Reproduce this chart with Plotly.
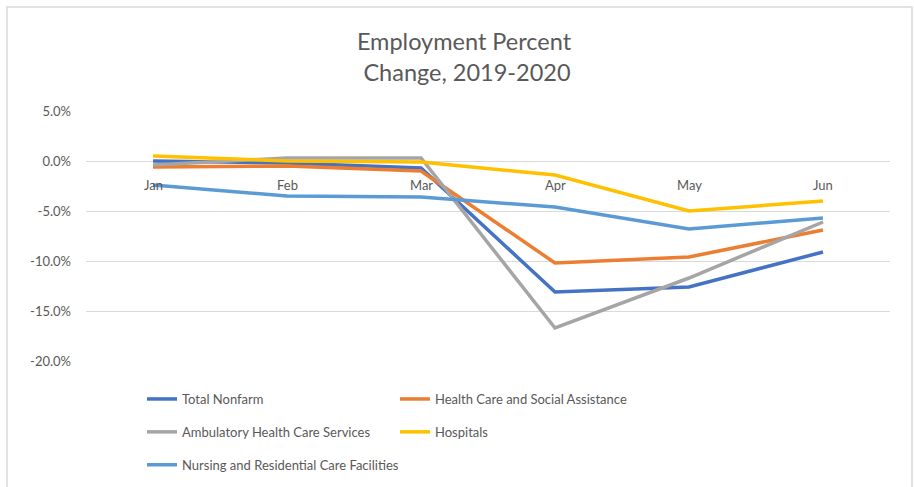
import plotly.graph_objects as go

months = ["Jan", "Feb", "Mar", "Apr", "May", "Jun"]
total_nonfarm = [0.0, -0.2, -0.7, -13.1, -12.6, -9.1]
health_care = [-0.6, -0.5, -1.0, -10.2, -9.6, -6.9]
ambulatory = [-0.4, 0.3, 0.3, -16.7, -11.7, -6.1]
hospitals = [0.5, 0.0, -0.1, -1.4, -5.0, -4.0]
nursing = [-2.4, -3.5, -3.6, -4.6, -6.8, -5.7]

series = [
    ("Total Nonfarm", total_nonfarm, "#4472C4", "legend"),
    ("Health Care and Social Assistance", health_care, "#ED7D31", "legend2"),
    ("Ambulatory Health Care Services", ambulatory, "#A5A5A5", "legend"),
    ("Hospitals", hospitals, "#FFC000", "legend2"),
    ("Nursing and Residential Care Facilities", nursing, "#5B9BD5", "legend"),
]

y_ticks = [5, 0, -5, -10, -15, -20]
y_tick_text = ["5.0%", "0.0%", "-5.0%", "-10.0%", "-15.0%", "-20.0%"]

FONT = "Lato"
TXT = "#595959"

W, H = 914, 487
L, R, T, B = 86, 24, 111, 126
pw, ph = W - L - R, H - T - B

fig = go.Figure()
for i, (name, vals, color, lg) in enumerate(series):
    fig.add_trace(go.Scatter(
        x=months, y=vals, name=name, mode="lines",
        line=dict(color=color, width=3.5),
        legend=lg, legendgroup=name,
    ))

annotations = []
for m in months:
    annotations.append(dict(x=m, y=0, xref="x", yref="y", text=m, showarrow=False,
                            yanchor="top", yshift=-14,
                            font=dict(family=FONT, size=13, color=TXT)))

def px_to_paper_x(px):
    return (px - L) / pw

def px_to_paper_y(py):
    return (H - B - py) / ph

fig.add_shape(type="rect", xref="paper", yref="paper",
              x0=px_to_paper_x(7), x1=px_to_paper_x(912),
              y0=px_to_paper_y(520), y1=px_to_paper_y(7),
              line=dict(color="#D9D9D9", width=1.5), fillcolor="rgba(0,0,0,0)", layer="below")

fig.update_layout(
    width=W, height=H,
    margin=dict(l=L, r=R, t=T, b=B, autoexpand=False),
    paper_bgcolor="white", plot_bgcolor="white",
    font=dict(family=FONT, size=13, color=TXT),
    title=dict(text="Employment Percent<br> Change, 2019-2020", x=464 / W, xanchor="center",
               y=1 - 50 / H, yanchor="top",
               font=dict(family=FONT, size=23.5, color=TXT)),
    xaxis=dict(type="category", range=[-0.5, 5.5], showticklabels=False,
               showgrid=False, zeroline=False, showline=False, ticks=""),
    yaxis=dict(range=[-20, 5], tickvals=y_ticks, ticktext=y_tick_text,
               showgrid=True, gridcolor="#D9D9D9", gridwidth=1,
               zeroline=False, showline=False, ticks="", ticklabelstandoff=14,
               tickfont=dict(family=FONT, size=13, color=TXT)),
    legend=dict(x=px_to_paper_x(142), xanchor="left", y=px_to_paper_y(384), yanchor="top",
                orientation="v", tracegroupgap=13, bgcolor="rgba(0,0,0,0)",
                font=dict(family=FONT, size=13, color=TXT)),
    legend2=dict(x=px_to_paper_x(395), xanchor="left", y=px_to_paper_y(384), yanchor="top",
                 orientation="v", tracegroupgap=13, bgcolor="rgba(0,0,0,0)",
                 font=dict(family=FONT, size=13, color=TXT)),
    annotations=annotations,
    showlegend=True,
)

fig.write_html("out.html", config={"displayModeBar": False},
               post_script="document.body.style.margin='0';document.body.style.overflow='hidden';")
